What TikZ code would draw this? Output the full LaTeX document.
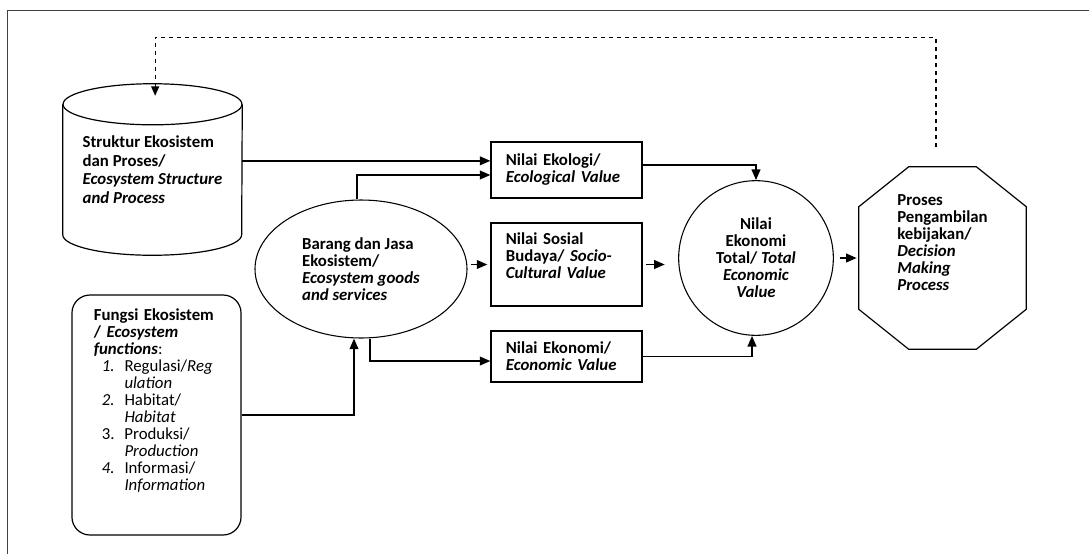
\documentclass[tikz,border=0pt]{standalone}
\usepackage{fontspec}
\setmainfont{Carlito}
\usetikzlibrary{shapes.geometric, arrows.meta}
\tikzstyle{store} = [rectangle, minimum width=134.25pt, minimum height=128.25pt, align=left, font=\fontsize{12.6}{14}\selectfont\bfseries]
\tikzstyle{cylline} = [draw=black, line width=0.9pt]
\tikzstyle{goods} = [ellipse, minimum width=159pt, minimum height=103.5pt, align=left, draw=black, line width=0.8pt]
\tikzstyle{funcbox} = [rectangle, rounded corners=13.5pt, minimum width=126.75pt, minimum height=180pt, text width=94pt, inner xsep=16.4pt, align=left, draw=black, line width=0.9pt]
\tikzstyle{valuebox} = [rectangle, text width=91pt, inner xsep=11.1pt, align=left, draw=black, line width=0.9pt]
\tikzstyle{totalcircle} = [circle, minimum size=116pt, align=center, draw=black, line width=0.8pt]
\tikzstyle{decide} = [rectangle, minimum width=125.25pt, minimum height=136.5pt, align=left]
\tikzstyle{octline} = [draw=black, line width=0.9pt]
\tikzstyle{arrow} = [line width=1.4pt,->,>={Triangle[length=8pt,width=6.5pt]}]
\tikzstyle{feedback} = [line width=0.8pt, dash pattern=on 3pt off 3pt,->,>={Triangle[length=7pt,width=6pt]}]
\tikzstyle{frame} = [line width=1.3pt, draw=black!75]
\newcommand{\fnum}[1]{\hspace*{6pt}\makebox[17pt][l]{#1}}

\begin{document}
\begin{tikzpicture}[x=0.75pt, y=-0.75pt, font=\fontsize{12.6}{12.75}\selectfont\bfseries]
\useasboundingbox (0,0) rectangle (1089,554);
\draw [frame] (1089,10.5) -- (7.5,10.5) -- (7.5,554);

\node (cyl) [store] at (152.5,169.5) {Struktur Ekosistem\\dan Proses/\\\textit{Ecosystem Structure}\\\textit{and Process}};
\node (barang) [goods] at (361,269) {Barang dan Jasa\\Ekosistem/\\\textit{Ecosystem goods}\\\textit{and services}};
\node (fungsi) [funcbox] at (156.5,415) {Fungsi Ekosistem\\/ \textit{Ecosystem}\\\textit{functions}\textmd{:}\\
  \mdseries\fnum{\textit{1.}}Regulasi/\textit{Reg}\\\fnum{}\textit{ulation}\\
  \fnum{\textit{2.}}Habitat/\\\fnum{}\textit{Habitat}\\
  \fnum{3.}Produksi/\\\fnum{}\textit{Production}\\
  \fnum{\textit{4.}}Informasi/\\\fnum{}\textit{Information}\\[11pt]\mbox{}};
\node (eco) [valuebox, minimum height=42pt] at (566.5,170) {Nilai Ekologi/\\\textit{Ecological Value}};
\node (sosbud) [valuebox, minimum height=62.25pt] at (566.5,264.5) {Nilai Sosial\\Budaya/ \textit{Socio-}\\\textit{Cultural Value}\\\mbox{}};
\node (ekon) [valuebox, minimum height=38.25pt] at (566.5,356.5) {Nilai Ekonomi/\\\textit{Economic Value}};
\node (total) [totalcircle] at (756,258) {Nilai\\Ekonomi\\Total/ \textit{Total}\\\textit{Economic}\\\textit{Value}};
\node (dec) [decide] at (942.5,258) {Proses\\Pengambilan\\kebijakan/\\\textit{Decision}\\\textit{Making}\\\textit{Process}\\[11pt]\mbox{}};
\coordinate (fb) at (936,37.5);

% cylinder round the structure node
\draw [cylline] ([yshift=-15.4pt]cyl.north) ellipse [x radius=67.1pt, y radius=15.4pt];
\draw [cylline] ([yshift=-15.4pt]cyl.north west) -- ([yshift=15.4pt]cyl.south west)
  arc [start angle=180, end angle=360, x radius=67.1pt, y radius=15.4pt] -- ([yshift=-15.4pt]cyl.north east);
% octagon round the decision node
\draw [octline] ([xshift=37.5pt]dec.north west) -- ([xshift=-37.5pt]dec.north east) -- ([yshift=-30pt]dec.north east)
  -- ([yshift=30pt]dec.south east) -- ([xshift=-37.5pt]dec.south east) -- ([xshift=37.5pt]dec.south west)
  -- ([yshift=30pt]dec.south west) -- ([yshift=-30pt]dec.north west) -- cycle;

\draw [arrow] ([yshift=6.5pt]cyl.east) -- ([yshift=6.5pt]cyl.east -| eco.west);
\draw [arrow] ([xshift=-3pt]barang.north) |- ([yshift=-3.75pt]eco.west);
\draw [arrow] ([xshift=2.25pt]barang.east |- sosbud.west) -- ([xshift=-2.25pt]sosbud.west);
\draw [arrow] ([xshift=6.75pt]barang.south) |- ([yshift=-3.4pt]ekon.west);
\draw [arrow] (fungsi.east) -| ([xshift=-5.25pt]barang.south);
\draw [arrow] ([yshift=3.75pt]eco.east) -| (total.north);
\draw [arrow] ([xshift=2.25pt]sosbud.east) -- ([xshift=-10pt]sosbud.east -| total.west);
\draw [arrow] (ekon.east) -| ([xshift=-3pt]total.south);
\draw [arrow] ([xshift=4.5pt]total.east) -- ([xshift=-1.5pt]dec.west);
\draw [feedback] ([yshift=15pt]fb |- dec.north) -- (fb) -| ([xshift=2pt,yshift=-9pt]cyl.north);
\end{tikzpicture}
\end{document}
